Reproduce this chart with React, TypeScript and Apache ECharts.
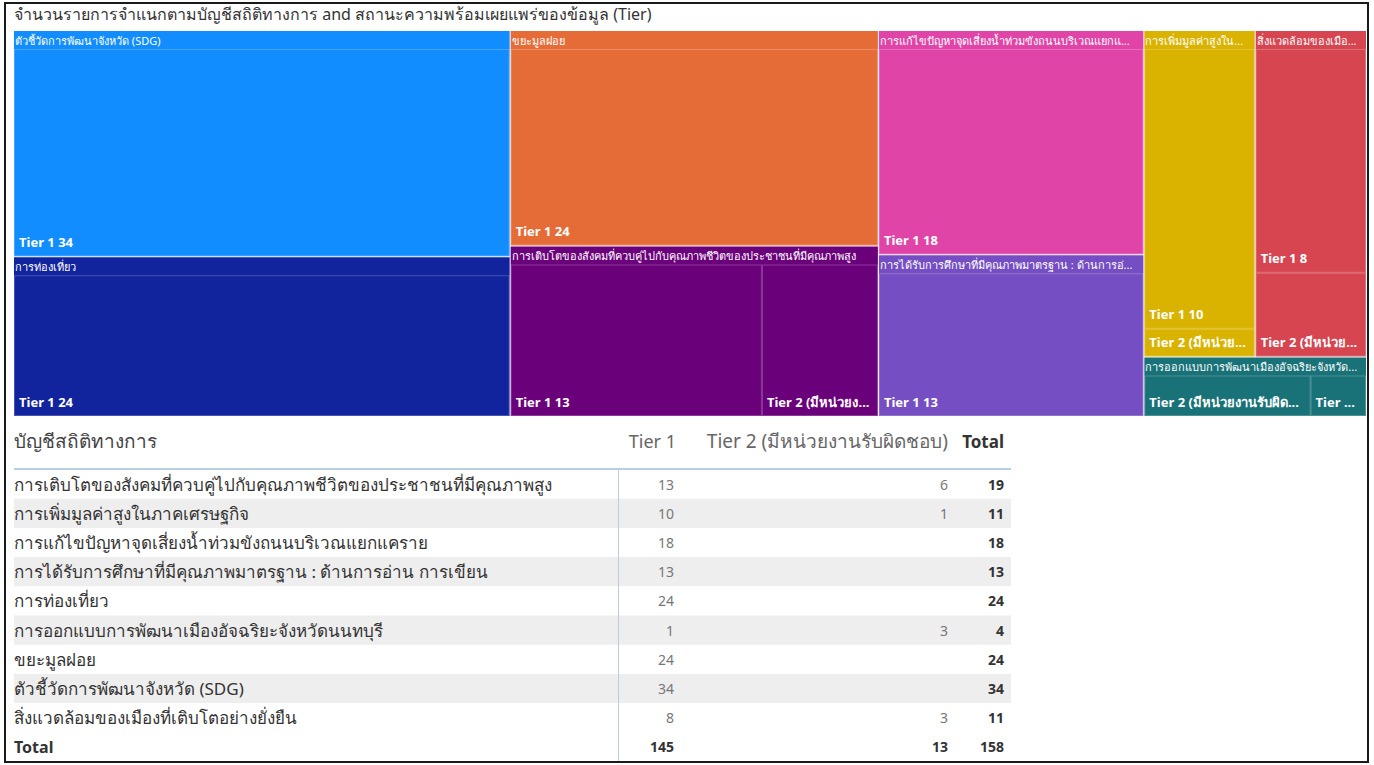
import React, { useEffect, useRef } from 'react';
import * as echarts from 'echarts';

const title = 'จำนวนรายการจำแนกตามบัญชีสถิติทางการ and สถานะความพร้อมเผยแพร่ของข้อมูล (Tier)';
const categoryHeader = 'บัญชีสถิติทางการ';
const totalLabel = 'Total';
const categories = [
  'การเติบโตของสังคมที่ควบคู่ไปกับคุณภาพชีวิตของประชาชนที่มีคุณภาพสูง',
  'การเพิ่มมูลค่าสูงในภาคเศรษฐกิจ',
  'การแก้ไขปัญหาจุดเสี่ยงน้ำท่วมขังถนนบริเวณแยกแคราย',
  'การได้รับการศึกษาที่มีคุณภาพมาตรฐาน : ด้านการอ่าน การเขียน',
  'การท่องเที่ยว',
  'การออกแบบการพัฒนาเมืองอัจฉริยะจังหวัดนนทบุรี',
  'ขยะมูลฝอย',
  'ตัวชี้วัดการพัฒนาจังหวัด (SDG)',
  'สิ่งแวดล้อมของเมืองที่เติบโตอย่างยั่งยืน',
];
const tierNames = ['Tier 1', 'Tier 2 (มีหน่วยงานรับผิดชอบ)'];
const tier1Values: (number | null)[] = [13, 10, 18, 13, 24, 1, 24, 34, 8];
const tier2Values: (number | null)[] = [6, 1, null, null, null, 3, null, null, 3];
const groupColors = ['#6B007B', '#D9B300', '#E044A7', '#744EC2', '#12239E', '#197278', '#E66C37', '#118DFF', '#D64550'];

const FONT = "'Segoe UI', 'Noto Sans', 'DejaVu Sans', sans-serif";
const UPPER_FONT = `11px ${FONT}`;
const LEAF_FONT = `bold 13px ${FONT}`;

export default function App() {
  const ref = useRef<HTMLDivElement>(null);
  useEffect(() => {
    if (!ref.current) return;
    const chart = echarts.init(ref.current, null, { renderer: 'svg' });

    const totals = categories.map((_, i) => (tier1Values[i] ?? 0) + (tier2Values[i] ?? 0));
    const order = categories.map((_, i) => i).sort((a, b) => totals[b] - totals[a] || a - b);
    const treeData = order.map((i) => {
      const kids = [
        { name: tierNames[0], value: tier1Values[i] },
        { name: tierNames[1], value: tier2Values[i] },
      ]
        .filter((k) => k.value != null && (k.value as number) > 0)
        .sort((a, b) => (b.value as number) - (a.value as number));
      return {
        name: categories[i],
        itemStyle: { color: groupColors[i], borderColor: groupColors[i] },
        children: kids.map((k) => ({ ...k, itemStyle: { color: groupColors[i] } })),
      };
    });

    // text fitting (ellipsis) measured with the real font
    const ctx = document.createElement('canvas').getContext('2d') as CanvasRenderingContext2D;
    const fit = (text: string, maxW: number, font: string) => {
      ctx.font = font;
      if (ctx.measureText(text).width <= maxW) return text;
      let lo = 0;
      let hi = text.length;
      while (lo < hi) {
        const mid = Math.ceil((lo + hi) / 2);
        if (ctx.measureText(text.slice(0, mid) + '...').width <= maxW) lo = mid;
        else hi = mid - 1;
      }
      return text.slice(0, lo) + '...';
    };
    const fitted: Record<number, string> = {};

    // table graphics
    const g: any[] = [];
    const tX = 14, c1 = 674, c2 = 948, c3 = 1004, tRight = 1011;
    const headY = 441, lineY = 469, row0 = 469.5, rowH = 29.2;
    g.push({ type: 'rect', shape: { x: 5, y: 3, width: 1363, height: 759 }, style: { fill: 'none', stroke: '#1a1a1a', lineWidth: 2 }, silent: true });
    g.push({ type: 'text', x: tX, y: 14, style: { text: title, fill: '#333', font: `16px ${FONT}`, textAlign: 'left', textVerticalAlign: 'middle' } });
    categories.forEach((_, i) => {
      if (i % 2 === 1) {
        g.push({ type: 'rect', shape: { x: tX, y: row0 + rowH * i, width: tRight - tX, height: rowH }, style: { fill: '#eeeeee' }, silent: true });
      }
    });
    g.push({ type: 'line', shape: { x1: tX, y1: lineY, x2: tRight, y2: lineY }, style: { stroke: '#b7cfe4', lineWidth: 2 } });
    g.push({ type: 'line', shape: { x1: 618.5, y1: lineY, x2: 618.5, y2: 761 }, style: { stroke: '#b7cfe4', lineWidth: 1 } });
    g.push({ type: 'text', x: tX, y: headY, style: { text: categoryHeader, fill: '#444', font: `19px ${FONT}`, textAlign: 'left', textVerticalAlign: 'middle' } });
    g.push({ type: 'text', x: c1 + 2, y: headY, style: { text: tierNames[0], fill: '#666', font: `18px ${FONT}`, textAlign: 'right', textVerticalAlign: 'middle' } });
    g.push({ type: 'text', x: c2, y: headY, style: { text: tierNames[1], fill: '#666', font: `19px ${FONT}`, textAlign: 'right', textVerticalAlign: 'middle' } });
    g.push({ type: 'text', x: c3, y: headY, style: { text: totalLabel, fill: '#333', font: `bold 17px ${FONT}`, textAlign: 'right', textVerticalAlign: 'middle' } });
    categories.forEach((name, i) => {
      const y = row0 + rowH * i + rowH / 2;
      g.push({ type: 'text', x: tX, y, style: { text: name, fill: '#333', font: `17px ${FONT}`, textAlign: 'left', textVerticalAlign: 'middle' } });
      if (tier1Values[i] != null) g.push({ type: 'text', x: c1, y, style: { text: String(tier1Values[i]), fill: '#777', font: `14px ${FONT}`, textAlign: 'right', textVerticalAlign: 'middle' } });
      if (tier2Values[i] != null) g.push({ type: 'text', x: c2, y, style: { text: String(tier2Values[i]), fill: '#777', font: `14px ${FONT}`, textAlign: 'right', textVerticalAlign: 'middle' } });
      g.push({ type: 'text', x: c3, y, style: { text: String(totals[i]), fill: '#333', font: `bold 14px ${FONT}`, textAlign: 'right', textVerticalAlign: 'middle' } });
    });
    const sum1 = tier1Values.reduce((s, v) => (s as number) + (v ?? 0), 0) as number;
    const sum2 = tier2Values.reduce((s, v) => (s as number) + (v ?? 0), 0) as number;
    const ty = row0 + rowH * categories.length + rowH / 2;
    g.push({ type: 'text', x: tX, y: ty, style: { text: totalLabel, fill: '#333', font: `bold 16px ${FONT}`, textAlign: 'left', textVerticalAlign: 'middle' } });
    g.push({ type: 'text', x: c1, y: ty, style: { text: String(sum1), fill: '#333', font: `bold 14px ${FONT}`, textAlign: 'right', textVerticalAlign: 'middle' } });
    g.push({ type: 'text', x: c2, y: ty, style: { text: String(sum2), fill: '#333', font: `bold 14px ${FONT}`, textAlign: 'right', textVerticalAlign: 'middle' } });
    g.push({ type: 'text', x: c3, y: ty, style: { text: String(sum1 + sum2), fill: '#333', font: `bold 14px ${FONT}`, textAlign: 'right', textVerticalAlign: 'middle' } });

    const option = {
      animation: false,
      backgroundColor: '#ffffff',
      tooltip: { show: false },
      graphic: g,
      series: [
        {
          type: 'treemap',
          left: 14,
          top: 31,
          width: 1352,
          height: 385,
          sort: false,
          roam: false,
          nodeClick: false,
          breadcrumb: { show: false },
          squareRatio: 0.5 * (1 + Math.sqrt(5)),
          label: {
            show: true,
            position: 'insideBottomLeft',
            distance: 4,
            padding: [0, 0, 3, 0],
            formatter: (p: any) => fitted[p.dataIndex] ?? `${p.name} ${p.value}`,
            color: '#fff',
            fontWeight: 'bold',
            fontSize: 13,
            fontFamily: FONT,
            overflow: 'truncate',
            ellipsis: '...',
          },
          upperLabel: { show: false },
          emphasis: { disabled: true },
          levels: [
            { itemStyle: { borderWidth: 0, gapWidth: 1, borderColor: '#ffffff' }, upperLabel: { show: false } },
            {
              itemStyle: { borderWidth: 0, gapWidth: 0 },
              upperLabel: {
                show: true,
                height: 18,
                formatter: (p: any) => fitted[p.dataIndex] ?? p.name,
                color: '#fff',
                fontSize: 11,
                fontWeight: 'normal',
                fontFamily: FONT,
                padding: [0, 0, 0, 1],
                overflow: 'none',
              },
            },
            { itemStyle: { borderWidth: 1, borderColor: 'rgba(255,255,255,0.22)' } },
          ],
          data: treeData,
        },
      ],
    };
    chart.setOption(option as any);

    try {
      const seriesModel = (chart as any).getModel().getSeriesByIndex(0);
      const tree = seriesModel.getData().tree;
      tree.root.children.forEach((grp: any) => {
        const gl = grp.getLayout();
        if (gl) fitted[grp.dataIndex] = fit(grp.name, gl.width - 8, UPPER_FONT);
        (grp.children || []).forEach((leaf: any) => {
          const ll = leaf.getLayout();
          if (ll) fitted[leaf.dataIndex] = fit(`${leaf.name} ${leaf.getValue()}`, ll.width - 9, LEAF_FONT);
        });
      });
      chart.setOption(option as any);
    } catch (e) {
      // keep default truncation
    }
    return () => chart.dispose();
  }, []);
  return <div ref={ref} style={{ position: 'absolute', left: 0, top: 0, width: 1374, height: 765 }} />;
}
